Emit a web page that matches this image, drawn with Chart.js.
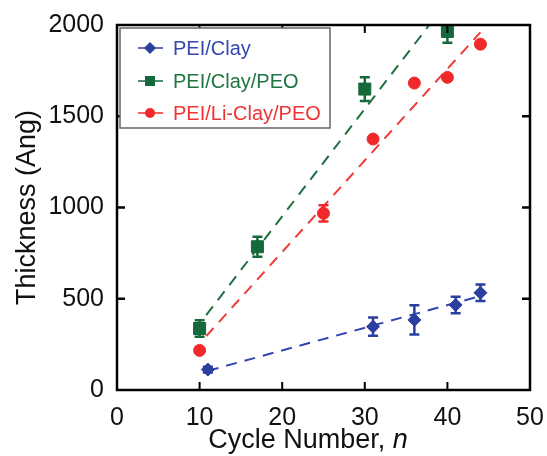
<!DOCTYPE html>
<html>
<head>
<meta charset="utf-8">
<script src="https://cdn.jsdelivr.net/npm/chart.js@4.4.1/dist/chart.umd.min.js"></script>
<style>
html,body{margin:0;padding:0;background:#fff;}
canvas{display:block;}
</style>
</head>
<body>
<canvas id="c" width="547" height="456"></canvas>
<script>
// ---- data ----
const seriesNames = ["PEI/Clay", "PEI/Clay/PEO", "PEI/Li-Clay/PEO"];

const cyclesClay = [11, 31, 36, 41, 44];
const thickClay = [112, 347, 384, 466, 533];
const errClay = [16, 50, 80, 45, 45];

const cyclesClayPEO = [10, 17, 30, 40];
const thickClayPEO = [337, 785, 1649, 1965];
const errClayPEO = [45, 55, 65, 62];

const cyclesLiClayPEO = [10, 25, 31, 36, 40, 44];
const thickLiClayPEO = [217, 968, 1375, 1682, 1713, 1895];
const errLiClayPEO = [0, 45, 0, 0, 0, 0];

// dashed linear-fit lines (end points)
const fitClayX = [11, 44];
const fitClayY = [105, 515];
const fitClayPEOX = [10.8, 37.8];
const fitClayPEOY = [410, 2000];
const fitLiClayPEOX = [10.8, 44];
const fitLiClayPEOY = [295, 1960];

const xTicks = [0, 10, 20, 30, 40, 50];
const yTicks = [0, 500, 1000, 1500, 2000];

const colBlue = "#2a3f9e";
const colGreen = "#16693a";
const colRed = "#f02a2a";
const FONT = "'Liberation Sans', Arial, sans-serif";
const TXT = "#111";

const pts = (xs, ys) => xs.map((x, i) => ({x: x, y: ys[i]}));

const errorBars = {
  id: "errorBars",
  afterDatasetsDraw(chart) {
    const ctx = chart.ctx, a = chart.chartArea;
    const ys = chart.scales.y;
    ctx.save();
    ctx.beginPath();
    ctx.rect(a.left, a.top, a.right - a.left, a.bottom - a.top);
    ctx.clip();
    chart.data.datasets.forEach((ds, di) => {
      if (!ds.errors) return;
      const meta = chart.getDatasetMeta(di);
      meta.data.forEach((el, i) => {
        const e = ds.errors[i];
        if (!e) return;
        const v = ds.data[i].y;
        const y1 = ys.getPixelForValue(v - e), y2 = ys.getPixelForValue(v + e);
        ctx.strokeStyle = ds.borderColor;
        ctx.lineWidth = 2.5;
        ctx.beginPath();
        ctx.moveTo(el.x, y1); ctx.lineTo(el.x, y2);
        ctx.moveTo(el.x - 5, y1); ctx.lineTo(el.x + 5, y1);
        ctx.moveTo(el.x - 5, y2); ctx.lineTo(el.x + 5, y2);
        ctx.stroke();
      });
    });
    ctx.restore();
  }
};

const frame = {
  id: "frame",
  afterDraw(chart) {
    const ctx = chart.ctx, a = chart.chartArea;
    const xs = chart.scales.x, ys = chart.scales.y;
    ctx.save();
    ctx.strokeStyle = "#000";
    ctx.lineWidth = 2;
    xTicks.slice(1, -1).forEach(t => {
      const px = xs.getPixelForValue(t);
      ctx.beginPath();
      ctx.moveTo(px, a.bottom); ctx.lineTo(px, a.bottom - 8);
      ctx.moveTo(px, a.top); ctx.lineTo(px, a.top + 8);
      ctx.stroke();
    });
    ctx.lineWidth = 2.5;
    yTicks.slice(1, -1).forEach(t => {
      const py = ys.getPixelForValue(t);
      ctx.beginPath();
      ctx.moveTo(a.left, py); ctx.lineTo(a.left + 8, py);
      ctx.moveTo(a.right, py); ctx.lineTo(a.right - 8, py);
      ctx.stroke();
    });
    ctx.lineWidth = 2.5;
    ctx.strokeRect(a.left, a.top, a.right - a.left, a.bottom - a.top);

    // axis titles
    ctx.fillStyle = TXT;
    ctx.textBaseline = "alphabetic";
    const part1 = "Cycle Number, ";
    ctx.font = "27px " + FONT;
    const w1 = ctx.measureText(part1).width;
    ctx.font = "italic 27px " + FONT;
    const w2 = ctx.measureText("n").width;
    const sx = 308 - (w1 + w2) / 2;
    ctx.textAlign = "left";
    ctx.font = "27px " + FONT;
    ctx.fillText(part1, sx, 448);
    ctx.font = "italic 27px " + FONT;
    ctx.fillText("n", sx + w1, 448);

    ctx.save();
    ctx.translate(35, (a.top + a.bottom) / 2);
    ctx.rotate(-Math.PI / 2);
    ctx.textAlign = "center";
    ctx.font = "27px " + FONT;
    ctx.fillText("Thickness (Ang)", 0, 0);
    ctx.restore();

    // legend
    const lx = 120, ly = 28, lw = 210, lh = 100;
    ctx.fillStyle = "#fff";
    ctx.fillRect(lx, ly, lw, lh);
    ctx.strokeStyle = "#666";
    ctx.lineWidth = 1.5;
    ctx.strokeRect(lx, ly, lw, lh);
    const rows = [48, 81, 113];
    for (let i = 0; i < 3; i++) {
      const ds = chart.data.datasets[i];
      const y = rows[i];
      ctx.strokeStyle = ds.borderColor;
      ctx.lineWidth = 1.5;
      ctx.beginPath();
      ctx.moveTo(138, y); ctx.lineTo(163, y);
      ctx.stroke();
      ctx.fillStyle = ds.backgroundColor;
      ctx.beginPath();
      if (ds.pointStyle === "circle") { ctx.arc(150, y, 5, 0, Math.PI * 2); }
      else if (ds.pointStyle === "rect") { ctx.rect(145, y - 5, 10, 10); }
      else { ctx.moveTo(150, y - 6); ctx.lineTo(156, y); ctx.lineTo(150, y + 6); ctx.lineTo(144, y); ctx.closePath(); }
      ctx.fill();
      ctx.font = "20px " + FONT;
      ctx.textAlign = "left";
      ctx.textBaseline = "middle";
      ctx.fillStyle = ds.legendColor;
      ctx.fillText(ds.label, 173, y + 1);
    }
    ctx.restore();
  }
};

const fitStyle = (c) => ({
  showLine: true, borderColor: c, borderWidth: 2, borderDash: [11, 8],
  pointRadius: 0, fill: false, tension: 0
});

new Chart(document.getElementById("c"), {
  type: "scatter",
  data: {
    datasets: [
      {label: seriesNames[0], data: pts(cyclesClay, thickClay), errors: errClay,
       pointStyle: "rectRot", pointRadius: 6.5, backgroundColor: colBlue, borderColor: colBlue, legendColor: "#3547b0"},
      {label: seriesNames[1], data: pts(cyclesClayPEO, thickClayPEO), errors: errClayPEO,
       pointStyle: "rect", pointRadius: 8.5, backgroundColor: colGreen, borderColor: colGreen, legendColor: "#1d7540"},
      {label: seriesNames[2], data: pts(cyclesLiClayPEO, thickLiClayPEO), errors: errLiClayPEO,
       pointStyle: "circle", pointRadius: 6, backgroundColor: colRed, borderColor: colRed, legendColor: "#f03333"},
      Object.assign({label: "fit1", data: pts(fitClayX, fitClayY)}, fitStyle("#3346b0")),
      Object.assign({label: "fit2", data: pts(fitClayPEOX, fitClayPEOY)}, fitStyle("#1d7040")),
      Object.assign({label: "fit3", data: pts(fitLiClayPEOX, fitLiClayPEOY)}, fitStyle("#f03a3a"))
    ]
  },
  options: {
    responsive: false,
    animation: false,
    devicePixelRatio: 1,
    layout: {padding: {top: 25, right: 17, left: 0, bottom: 0}},
    plugins: {legend: {display: false}, tooltip: {enabled: false}},
    scales: {
      x: {
        type: "linear", min: 0, max: 50,
        afterBuildTicks: (s) => { s.ticks = xTicks.map(v => ({value: v})); },
        afterFit: (s) => { s.height = 66; s.paddingLeft = 0; s.paddingRight = 0; },
        grid: {display: false, drawTicks: false},
        border: {display: false},
        ticks: {font: {size: 25, family: FONT}, color: TXT, padding: 13, maxRotation: 0,
                callback: (v) => String(v)}
      },
      y: {
        type: "linear", min: 0, max: 2000,
        afterBuildTicks: (s) => { s.ticks = yTicks.map(v => ({value: v})); },
        afterFit: (s) => { s.width = 117; s.paddingTop = 0; s.paddingBottom = 0; },
        grid: {display: false, drawTicks: false},
        border: {display: false},
        ticks: {font: {size: 25, family: FONT}, color: TXT, padding: 13,
                callback: (v) => String(v)}
      }
    }
  },
  plugins: [errorBars, frame]
});
</script>
</body>
</html>
